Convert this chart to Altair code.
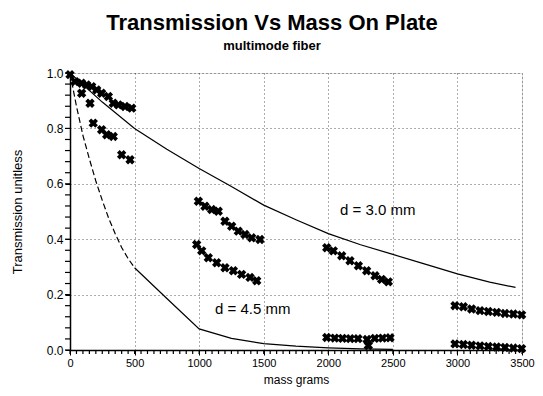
import altair as alt
import pandas as pd

# ---- data ----
# d = 3.0 mm model curve (solid)
c30_x = [0, 250, 500, 750, 1000, 1250, 1500, 1750, 2000, 2250, 2500, 2750, 3000, 3250, 3450]
c30_y = [1.0, 0.895, 0.80, 0.725, 0.655, 0.59, 0.523, 0.47, 0.42, 0.38, 0.345, 0.31, 0.275, 0.245, 0.226]
# d = 4.5 mm model curve (dashed part, then solid part)
c45a_x = [0, 50, 100, 150, 200, 250, 300, 350, 400, 450, 500]
c45a_y = [1.0, 0.88, 0.775, 0.69, 0.61, 0.54, 0.475, 0.42, 0.37, 0.33, 0.297]
c45b_x = [500, 750, 1000, 1250, 1500, 1750, 2000, 2250, 2500]
c45b_y = [0.297, 0.186, 0.076, 0.042, 0.023, 0.014, 0.008, 0.004, 0.002]

# measured points (groups)
pA_x = [0, 39, 90, 129, 168, 207, 245, 297, 335, 374, 426, 478]
pA_y = [0.994, 0.969, 0.963, 0.957, 0.951, 0.939, 0.927, 0.915, 0.891, 0.885, 0.879, 0.873]
pB_x = [90, 155, 180, 245, 284, 335, 400, 465]
pB_y = [0.927, 0.891, 0.819, 0.795, 0.777, 0.771, 0.705, 0.687]
pC_x = [994, 1045, 1097, 1148, 1200, 1252, 1303, 1355, 1407, 1471]
pC_y = [0.537, 0.519, 0.507, 0.501, 0.465, 0.447, 0.429, 0.417, 0.405, 0.399]
pD_x = [981, 1020, 1071, 1136, 1200, 1265, 1329, 1394, 1446]
pD_y = [0.381, 0.358, 0.333, 0.315, 0.297, 0.286, 0.273, 0.262, 0.25]
pE_x = [1988, 2039, 2104, 2168, 2233, 2297, 2362, 2413, 2465]
pE_y = [0.369, 0.358, 0.34, 0.322, 0.304, 0.286, 0.268, 0.255, 0.246]
pF_x = [1988, 2050, 2110, 2170, 2230, 2300, 2310, 2360, 2420, 2478]
pF_y = [0.045, 0.043, 0.042, 0.041, 0.041, 0.038, 0.016, 0.042, 0.043, 0.044]
pG_x = [2981, 3046, 3110, 3175, 3239, 3304, 3368, 3433, 3497]
pG_y = [0.16, 0.156, 0.148, 0.142, 0.139, 0.136, 0.132, 0.13, 0.127]
pH_x = [2981, 3046, 3110, 3175, 3239, 3304, 3368, 3433, 3497]
pH_y = [0.022, 0.02, 0.017, 0.015, 0.013, 0.011, 0.009, 0.007, 0.005]

labels_text = ["d = 3.0 mm", "d = 4.5 mm"]
labels_x = [2091, 1123]
labels_y = [0.507, 0.147]

x_major = [0, 500, 1000, 1500, 2000, 2500, 3000, 3500]
y_major = [0.0, 0.2, 0.4, 0.6, 0.8, 1.0]
x_minor = list(range(0, 3501, 50))
y_minor = [round(i * 0.04, 2) for i in range(26)]

FONT = "Liberation Sans"
W, H = 452, 277

# ---- tables ----
df30 = pd.DataFrame({"x": c30_x, "y": c30_y})
df45a = pd.DataFrame({"x": c45a_x, "y": c45a_y})
df45b = pd.DataFrame({"x": c45b_x, "y": c45b_y})
pts = pd.concat([
    pd.DataFrame({"x": xs, "y": ys, "g": g})
    for xs, ys, g in [(pA_x, pA_y, "A"), (pB_x, pB_y, "B"), (pC_x, pC_y, "C"),
                      (pD_x, pD_y, "D"), (pE_x, pE_y, "E"), (pF_x, pF_y, "F"),
                      (pG_x, pG_y, "G"), (pH_x, pH_y, "H")]
])
lab = pd.DataFrame({"t": labels_text, "x": labels_x, "y": labels_y})
xmin_df = pd.DataFrame({"x": x_minor})
ymin_df = pd.DataFrame({"y": y_minor})

xscale = alt.Scale(domain=[0, 3500], nice=False, zero=False)
yscale = alt.Scale(domain=[0, 1], nice=False)

xaxis = alt.Axis(
    values=x_major,
    format="d",
    grid=True,
    gridDash=[1, 3],
    gridColor="#222",
    gridOpacity=0.75,
    tickSize=5,
    tickColor="black",
    domainColor="black",
    domainWidth=1.5,
    labelFont=FONT,
    labelFontSize=11,
    labelColor="black",
    labelPadding=2,
    labelFlush=False,
    title="mass grams",
    titleFont=FONT,
    titleFontSize=12,
    titleFontWeight="normal",
    titleColor="black",
    titlePadding=6,
)
yaxis = alt.Axis(
    values=y_major,
    format=".1f",
    grid=True,
    gridDash=[1, 3],
    gridColor="#222",
    gridOpacity=0.75,
    tickSize=5,
    tickColor="black",
    domainColor="black",
    domainWidth=1.5,
    labelFont=FONT,
    labelFontSize=12,
    labelColor="black",
    labelPadding=2,
    labelFlush=False,
    title="Transmission unitless",
    titleFont=FONT,
    titleFontSize=13,
    titleFontWeight="normal",
    titleColor="black",
    titlePadding=22,
)

line30 = alt.Chart(df30).mark_line(color="black", strokeWidth=1.2).encode(
    x=alt.X("x:Q", scale=xscale, axis=xaxis),
    y=alt.Y("y:Q", scale=yscale, axis=yaxis),
)
line45a = alt.Chart(df45a).mark_line(color="black", strokeWidth=1.2, strokeDash=[6, 3]).encode(
    x="x:Q", y="y:Q"
)
line45b = alt.Chart(df45b).mark_line(color="black", strokeWidth=1.2).encode(
    x="x:Q", y="y:Q"
)
xminor = alt.Chart(xmin_df).mark_rule(color="black", strokeWidth=1.2).encode(
    x="x:Q", y=alt.value(H), y2=alt.value(H + 4)
)
yminor = alt.Chart(ymin_df).mark_rule(color="black", strokeWidth=1.2).encode(
    y="y:Q", x=alt.value(-5), x2=alt.value(0)
)
points = alt.Chart(pts).mark_point(
    shape="cross", angle=45, filled=True, color="black", size=90, opacity=1
).encode(x="x:Q", y="y:Q")
texts = alt.Chart(lab).mark_text(
    align="left", baseline="middle", font=FONT, fontSize=15, color="black"
).encode(x="x:Q", y="y:Q", text="t:N")

chart = alt.layer(line30, line45a, line45b, xminor, yminor, points, texts).properties(
    width=W,
    height=H,
    autosize=alt.AutoSizeParams(type="none"),
    padding={"left": 62, "top": 65, "right": 13, "bottom": 38},
    title=alt.TitleParams(
        "Transmission Vs Mass On Plate",
        subtitle="multimode fiber",
        font=FONT,
        fontSize=22,
        fontWeight="bold",
        color="black",
        subtitleFont=FONT,
        subtitleFontSize=13,
        subtitleFontWeight="bold",
        subtitleColor="black",
        subtitlePadding=5,
        anchor="middle",
        dx=-24,
        offset=13,
    ),
).configure_view(stroke="black", strokeWidth=1.5).configure(background="white")

chart.save("out.html", embed_options={"renderer": "svg", "actions": False})
